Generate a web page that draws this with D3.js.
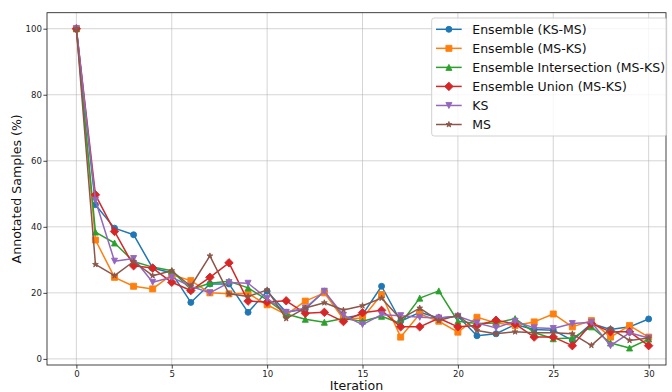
<!DOCTYPE html>
<html>
<head>
<meta charset="utf-8">
<script src="https://cdn.jsdelivr.net/npm/d3@7"></script>
<style>
  html, body { margin: 0; padding: 0; background: #fff; }
  svg { display: block; font-family: "DejaVu Sans", sans-serif; }
</style>
</head>
<body>
<svg id="chart" width="672" height="392"></svg>
<script>
const iterations = d3.range(0, 31);
const seriesNames = ["Ensemble (KS-MS)", "Ensemble (MS-KS)", "Ensemble Intersection (MS-KS)", "Ensemble Union (MS-KS)", "KS", "MS"];
const ensembleKSMS = [100, 46.7, 39.6, 37.6, 27.5, 26.0, 17.1, 22.7, 22.7, 14.1, 20.5, 14.1, 15.1, 20.5, 12.4, 13.4, 22.0, 11.4, 14.1, 12.4, 12.9, 7.0, 7.6, 10.4, 8.9, 8.7, 5.6, 10.7, 8.9, 9.7, 12.1];
const ensembleMSKS = [100, 36.0, 24.7, 22.0, 21.2, 25.5, 23.7, 20.0, 19.7, 19.8, 16.4, 13.4, 17.5, 20.0, 12.1, 12.4, 19.5, 6.6, 13.6, 11.4, 8.1, 12.6, 10.9, 10.1, 11.2, 13.6, 9.7, 11.6, 6.6, 10.1, 6.6];
const ensembleIntersection = [100, 38.4, 35.1, 29.5, 27.8, 26.7, 21.0, 22.9, 23.5, 21.5, 17.9, 13.6, 12.0, 11.1, 12.2, 11.4, 12.9, 10.7, 18.4, 20.6, 11.4, 10.7, 10.9, 12.2, 8.0, 6.1, 6.3, 9.7, 4.8, 3.3, 6.0];
const ensembleUnion = [100, 49.7, 38.6, 28.2, 27.5, 23.2, 20.7, 24.7, 29.1, 17.5, 17.2, 17.6, 13.8, 14.1, 11.3, 14.0, 14.7, 9.7, 9.7, 12.3, 9.7, 10.1, 11.7, 10.6, 6.6, 6.6, 4.0, 10.7, 8.2, 8.2, 4.0];
const ks = [100, 48.0, 29.6, 30.4, 23.2, 24.7, 22.0, 20.0, 23.1, 22.9, 18.3, 14.1, 15.4, 20.5, 13.2, 10.4, 13.4, 13.1, 12.6, 12.4, 12.9, 10.9, 9.4, 11.4, 9.4, 9.2, 10.7, 11.1, 4.0, 7.9, 6.3];
const ms = [100, 28.6, 25.2, 29.5, 25.2, 26.7, 22.0, 31.2, 19.7, 18.9, 20.9, 12.2, 15.4, 17.0, 14.8, 16.1, 18.4, 12.1, 15.4, 11.6, 13.2, 8.6, 7.6, 8.2, 7.9, 7.9, 7.6, 4.1, 9.2, 5.6, 6.3];
const xTicks = [0, 5, 10, 15, 20, 25, 30];
const yTicks = [0, 20, 40, 60, 80, 100];
const xLabel = "Iteration";
const yLabel = "Annotated Samples (%)";

const seriesValues = [ensembleKSMS, ensembleMSKS, ensembleIntersection, ensembleUnion, ks, ms];
const colors = ["#1f77b4", "#ff7f0e", "#2ca02c", "#d62728", "#9467bd", "#8c564b"];
const markers = ["circle", "square", "triangleUp", "diamond", "triangleDown", "star"];

const svg = d3.select("#chart");
const L = 47, R = 666, T = 12.7, B = 365;
const x = d3.scaleLinear().domain([-1.54, 30.91]).range([L, R]);
const y = d3.scaleLinear().domain([-1.85, 104.85]).range([B, T]);

// grid
const grid = svg.append("g");
grid.selectAll("line.gx").data(xTicks).join("line")
  .attr("x1", d => x(d)).attr("x2", d => x(d)).attr("y1", T).attr("y2", B)
  .attr("stroke", "#b0b0b0").attr("stroke-opacity", 0.6).attr("stroke-width", 0.9);
grid.selectAll("line.gy").data(yTicks).join("line")
  .attr("y1", d => y(d)).attr("y2", d => y(d)).attr("x1", L).attr("x2", R)
  .attr("stroke", "#b0b0b0").attr("stroke-opacity", 0.6).attr("stroke-width", 0.9);

// axes
const xAxis = d3.axisBottom(x).tickValues(xTicks).tickSize(3.6).tickPadding(2.3).tickFormat(d3.format("d"));
const yAxis = d3.axisLeft(y).tickValues(yTicks).tickSize(3.6).tickPadding(1.5).tickFormat(d3.format("d"));
const gx = svg.append("g").attr("transform", `translate(0,${B})`).call(xAxis);
const gy = svg.append("g").attr("transform", `translate(${L},0)`).call(yAxis);
[gx, gy].forEach(g => {
  g.select(".domain").remove();
  g.selectAll(".tick line").attr("stroke", "#222").attr("stroke-width", 0.85);
  g.selectAll(".tick text").attr("fill", "#222").attr("font-size", "8.6px").attr("font-family", "DejaVu Sans");
});

// markers
function markerPath(type, s) {
  const h = s / 2;
  switch (type) {
    case "circle": return d3.symbol(d3.symbolCircle, Math.PI * h * h)();
    case "square": return `M${-h},${-h}H${h}V${h}H${-h}Z`;
    case "triangleUp": return `M0,${-h}L${h},${h}L${-h},${h}Z`;
    case "triangleDown": return `M0,${h}L${h},${-h}L${-h},${-h}Z`;
    case "diamond": { const d = h * Math.SQRT2; return `M0,${-d}L${d},0L0,${d}L${-d},0Z`; }
    case "star": {
      const pts = [];
      for (let i = 0; i < 10; i++) {
        const r = i % 2 === 0 ? h : h * 0.381966;
        const a = -Math.PI / 2 + i * Math.PI / 5;
        pts.push([r * Math.cos(a), r * Math.sin(a)]);
      }
      return "M" + pts.map(p => p.join(",")).join("L") + "Z";
    }
  }
}
const msize = 6;

const line = d3.line().x((d, i) => x(iterations[i])).y(d => y(d));
const plot = svg.append("g");
seriesValues.forEach((vals, si) => {
  const g = plot.append("g");
  g.append("path").datum(vals).attr("d", line)
    .attr("fill", "none").attr("stroke", colors[si]).attr("stroke-width", 1.5).attr("stroke-linejoin", "round");
  g.selectAll("path.m").data(vals).join("path").attr("class", "m")
    .attr("transform", (d, i) => `translate(${x(iterations[i])},${y(d)})`)
    .attr("d", markerPath(markers[si], msize))
    .attr("fill", colors[si]).attr("stroke", colors[si]).attr("stroke-width", 0.9);
});

// spines
svg.append("rect").attr("x", L).attr("y", T).attr("width", R - L).attr("height", B - T)
  .attr("fill", "none").attr("stroke", "#222").attr("stroke-width", 0.85);

// axis labels
svg.append("text").attr("x", (L + R) / 2).attr("y", 390).attr("text-anchor", "middle")
  .attr("font-size", "12.6px").attr("fill", "#111").text(xLabel);
svg.append("text").attr("transform", `translate(20.5,${(T + B) / 2}) rotate(-90)`).attr("text-anchor", "middle")
  .attr("font-size", "12.6px").attr("fill", "#111").text(yLabel);

// legend
const lg = svg.append("g");
lg.append("rect").attr("x", 431.7).attr("y", 18).attr("width", 235).attr("height", 118).attr("rx", 2.5)
  .attr("fill", "#fff").attr("fill-opacity", 0.8).attr("stroke", "#cccccc").attr("stroke-width", 0.9);
const rowY = d3.scaleLinear().domain([0, 5]).range([29.3, 124.5]);
seriesNames.forEach((name, si) => {
  const cy = rowY(si);
  lg.append("line").attr("x1", 436).attr("x2", 461.7).attr("y1", cy).attr("y2", cy)
    .attr("stroke", colors[si]).attr("stroke-width", 1.5);
  lg.append("path").attr("transform", `translate(448.9,${cy})`).attr("d", markerPath(markers[si], msize))
    .attr("fill", colors[si]).attr("stroke", colors[si]).attr("stroke-width", 0.9);
  lg.append("text").attr("x", 472.3).attr("y", cy + 4.5).attr("font-size", "12.5px").attr("fill", "#111").text(name);
});
</script>
</body>
</html>
